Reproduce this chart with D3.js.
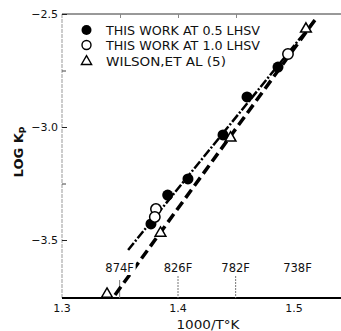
<!DOCTYPE html>
<html>
<head>
<meta charset="utf-8">
<script src="https://cdn.jsdelivr.net/npm/d3@7"></script>
<style>
  html, body { margin: 0; padding: 0; background: #fff; }
  svg { display: block; }
  text { font-family: "DejaVu Sans", sans-serif; fill: #111; }
</style>
</head>
<body>
<svg id="chart" width="341" height="331"></svg>
<script>
// ---- data (x = 1000/T°K, y = log Kp) ----
const filled05X = [1.3767, 1.3911, 1.4086, 1.4388, 1.4595, 1.4862];
const filled05Y = [-3.429, -3.301, -3.230, -3.035, -2.867, -2.735];
const open10X = [1.3810, 1.3800, 1.4948];
const open10Y = [-3.363, -3.398, -2.677];
const wilsonX = [1.5103, 1.4453, 1.3849, 1.3388];
const wilsonY = [-2.562, -3.044, -3.465, -3.735];
const lineThisWorkX = [1.357, 1.518];
const lineThisWorkY = [-3.544, -2.527];
const lineWilsonX = [1.3457, 1.518];
const lineWilsonY = [-3.743, -2.527];
const yTicks = [-2.5, -3.0, -3.5];
const yMinorTicks = [-2.75, -3.25];
const xTicks = [1.3, 1.4, 1.5];
const tempLabels = ["874F", "826F", "782F", "738F"];
const tempX = [1.3497, 1.4000, 1.4497, 1.5030];
const legendLabels = ["THIS WORK AT 0.5 LHSV", "THIS WORK AT 1.0 LHSV", "WILSON,ET AL (5)"];
const yBottom = -3.757;
const xRight = 1.5405;

const svg = d3.select("#chart");
const x = d3.scaleLinear().domain([1.3, 1.5]).range([62, 294]);
const y = d3.scaleLinear().domain([-3.5, -2.5]).range([240, 14]);

const x0 = x(1.3), x1 = x(xRight), yTop = y(-2.5), yBot = y(yBottom);

// left axis (faint, broken)
svg.append("line").attr("x1", x0).attr("x2", x0).attr("y1", yTop).attr("y2", yBot)
  .attr("stroke", "#999").attr("stroke-width", 1).attr("stroke-dasharray", "4,1");
// top axis
svg.append("line").attr("x1", x0).attr("x2", x1).attr("y1", yTop).attr("y2", yTop)
  .attr("stroke", "#333").attr("stroke-width", 1);
// bottom axis
svg.append("line").attr("x1", x0).attr("x2", x1).attr("y1", yBot).attr("y2", yBot)
  .attr("stroke", "#000").attr("stroke-width", 2);

// left ticks
const yAxis = d3.axisRight(y).tickValues(yTicks).tickSize(5).tickFormat("");
const gy = svg.append("g").attr("transform", `translate(${x0},0)`).call(yAxis);
gy.select(".domain").remove();
gy.selectAll("line").attr("stroke", "#222").attr("stroke-width", 1);
const yMinor = d3.axisRight(y).tickValues(yMinorTicks).tickSize(4).tickFormat("");
const gym = svg.append("g").attr("transform", `translate(${x0},0)`).call(yMinor);
gym.select(".domain").remove();
gym.selectAll("line").attr("stroke", "#444");

// left tick labels
svg.selectAll(".ylab").data(yTicks).enter().append("text")
  .attr("x", 58).attr("y", d => y(d) + 4).attr("text-anchor", "end")
  .attr("font-size", 11).text(d => "\u2212" + Math.abs(d).toFixed(1));

// top ticks
const xTop = d3.axisBottom(x).tickValues([1.35, 1.4, 1.45]).tickSize(4).tickFormat("");
const gxt = svg.append("g").attr("transform", `translate(0,${yTop})`).call(xTop);
gxt.select(".domain").remove();
gxt.selectAll("line").attr("stroke", "#888");

// bottom tick labels
svg.selectAll(".xlab").data(xTicks).enter().append("text")
  .attr("x", d => x(d)).attr("y", 312).attr("text-anchor", "middle")
  .attr("font-size", 11).text(d => d.toFixed(1));

// temperature guide lines
const tempTop = [280, 273, 273, 300];
svg.selectAll(".tline").data(tempX.slice(0, 3)).enter().append("line")
  .attr("x1", d => x(d)).attr("x2", d => x(d))
  .attr("y1", (d, i) => tempTop[i]).attr("y2", yBot)
  .attr("stroke", "#777").attr("stroke-width", 1).attr("stroke-dasharray", (d, i) => i === 0 ? null : "2,1");

// fitted lines
const line = d3.line().x(d => x(d[0])).y(d => y(d[1]));
const wilsonPts = lineWilsonX.map((v, i) => [v, lineWilsonY[i]]);
const thisPts = lineThisWorkX.map((v, i) => [v, lineThisWorkY[i]]);
svg.append("path").attr("d", line(wilsonPts)).attr("fill", "none")
  .attr("stroke", "#000").attr("stroke-width", 3.5).attr("stroke-dasharray", "10,5");
svg.append("path").attr("d", line(thisPts)).attr("fill", "none")
  .attr("stroke", "#000").attr("stroke-width", 2.5).attr("stroke-dasharray", "9,2,2,2");

// temperature labels (white background hides line)
const tg = svg.selectAll(".tlab").data(tempLabels).enter().append("g");
tg.append("rect").attr("x", (d, i) => x(tempX[i]) - 16).attr("y", 261)
  .attr("width", 32).attr("height", 14).attr("fill", "#fff");
tg.append("text").attr("x", (d, i) => x(tempX[i])).attr("y", 272)
  .attr("text-anchor", "middle").attr("font-size", 11.5).text(d => d);

// markers
const sym = d3.symbol().type(d3.symbolTriangle).size(50);
svg.selectAll(".wil").data(wilsonX).enter().append("path")
  .attr("d", sym).attr("transform", (d, i) => `translate(${x(d)},${y(wilsonY[i]) + 1})`)
  .attr("fill", "#fff").attr("stroke", "#000").attr("stroke-width", 1.5);
svg.selectAll(".f05").data(filled05X).enter().append("circle")
  .attr("cx", d => x(d)).attr("cy", (d, i) => y(filled05Y[i])).attr("r", 5.5)
  .attr("fill", "#000");
svg.selectAll(".o10").data(open10X).enter().append("circle")
  .attr("cx", d => x(d)).attr("cy", (d, i) => y(open10Y[i])).attr("r", 5.2)
  .attr("fill", "#fff").attr("stroke", "#000").attr("stroke-width", 1.5);

// legend
const legY = [30, 45, 60.5];
svg.append("circle").attr("cx", 86.5).attr("cy", legY[0]).attr("r", 5).attr("fill", "#000");
svg.append("circle").attr("cx", 86.5).attr("cy", legY[1]).attr("r", 4.5)
  .attr("fill", "#fff").attr("stroke", "#000").attr("stroke-width", 1.4);
svg.append("path").attr("d", d3.symbol().type(d3.symbolTriangle).size(45))
  .attr("transform", `translate(86.5,${legY[2] + 1})`)
  .attr("fill", "#fff").attr("stroke", "#000").attr("stroke-width", 1.4);
const legW = [154, 154, 120];
svg.selectAll(".leg").data(legendLabels).enter().append("text")
  .attr("x", 106).attr("y", (d, i) => legY[i] + 5)
  .attr("font-size", 13).attr("textLength", (d, i) => legW[i]).attr("lengthAdjust", "spacingAndGlyphs")
  .text(d => d);

// axis titles
svg.append("text").attr("x", 208).attr("y", 329).attr("text-anchor", "middle")
  .attr("font-size", 12.5).attr("textLength", 63).attr("lengthAdjust", "spacingAndGlyphs")
  .text("1000/T°K");
const yl = svg.append("text").attr("transform", "translate(23,152) rotate(-90)")
  .attr("text-anchor", "middle").attr("font-size", 13).attr("font-weight", "bold");
yl.append("tspan").text("LOG K");
yl.append("tspan").attr("font-size", 9).attr("dy", 3).text("P");
</script>
</body>
</html>
